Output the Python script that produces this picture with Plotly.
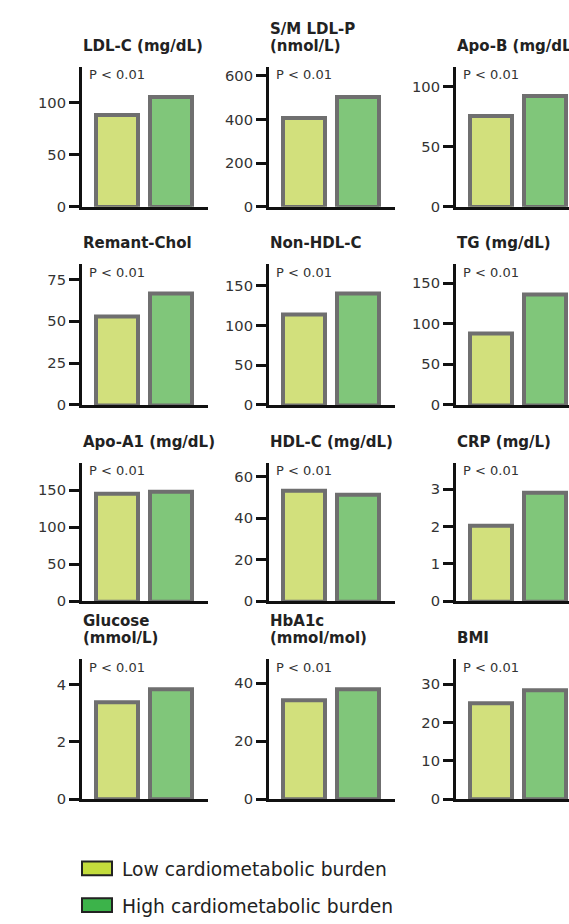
import plotly.graph_objects as go

W, H = 569, 924

titles = ["LDL-C (mg/dL)", "S/M LDL-P<br>(nmol/L)", "Apo-B (mg/dL)",
          "Remant-Chol", "Non-HDL-C", "TG (mg/dL)",
          "Apo-A1 (mg/dL)", "HDL-C (mg/dL)", "CRP (mg/L)",
          "Glucose<br>(mmol/L)", "HbA1c<br>(mmol/mol)", "BMI"]
low_values = [88, 408, 76, 53, 114.5, 88, 145, 53, 2.03, 3.4, 34.3, 24.9]
high_values = [106, 503, 92, 66.5, 140.5, 136.5, 148, 51.3, 2.92, 3.85, 37.8, 28.3]
tick_values = [[0, 50, 100], [0, 200, 400, 600], [0, 50, 100],
               [0, 25, 50, 75], [0, 50, 100, 150], [0, 50, 100, 150],
               [0, 50, 100, 150], [0, 20, 40, 60], [0, 1, 2, 3],
               [0, 2, 4], [0, 20, 40], [0, 10, 20, 30]]
p_labels = ["P < 0.01"] * 12
group_names = ["Low cardiometabolic burden", "High cardiometabolic burden"]

# layout (window pixels)
y_max = [134.7, 641, 116.5, 84, 177, 173, 187, 66.6, 3.71, 4.9, 48.3, 36.5]
col_left = [82, 269, 456]
col_w = 126
px_per_cat = 54.0
x_start = -0.654
row_top = [67.5, 266.7, 466.7, 665]
row_bot = [208.5, 408.5, 606.5, 806]

bar_fill = ["#d2e07c", "#80c67a"]
legend_fill = ["#c3dc3c", "#3cb34a"]
font_family = "DejaVu Sans, Verdana, sans-serif"

def px(x):
    return x / W

def py(y):
    return 1 - y / H

fig = go.Figure()
annotations = []
shapes = []
layout_axes = {}

for i in range(12):
    r, c = divmod(i, 3)
    n = i + 1
    xa = "x" if n == 1 else f"x{n}"
    ya = "y" if n == 1 else f"y{n}"
    fig.add_trace(go.Bar(
        x=[0, 1], y=[low_values[i], high_values[i]],
        marker=dict(color=bar_fill, line=dict(color="#6f6f6f", width=4)),
        width=0.778, xaxis=xa, yaxis=ya, showlegend=False,
        hoverinfo="y",
    ))
    right_px = min(W, col_left[c] + col_w)
    x_end = x_start + (right_px - col_left[c]) / px_per_cat
    layout_axes["xaxis" if n == 1 else f"xaxis{n}"] = dict(
        domain=[px(col_left[c]), px(right_px)], range=[x_start, x_end], anchor=ya,
        showline=True, linewidth=3, linecolor="#111111",
        showticklabels=False, ticks="", showgrid=False, zeroline=False,
        fixedrange=True,
    )
    layout_axes["yaxis" if n == 1 else f"yaxis{n}"] = dict(
        domain=[py(row_bot[r]), py(row_top[r])], range=[0, y_max[i]], anchor=xa,
        showline=True, linewidth=3, linecolor="#111111",
        ticks="outside", ticklen=10, tickwidth=2.5, tickcolor="#111111",
        tickvals=tick_values[i], ticktext=[str(v) for v in tick_values[i]],
        tickfont=dict(family=font_family, size=14.7, color="#333333"),
        showgrid=False, zeroline=False, fixedrange=True,
    )
    # title lines, placed bottom-up with a tight line spacing
    lines = titles[i].split("<br>")
    for j, line in enumerate(reversed(lines)):
        annotations.append(dict(
            text=f"<b>{line}</b>", xref="paper", yref="paper",
            x=px(col_left[c] - 1), y=py(row_top[r] - 10 - 17 * j),
            xanchor="left", yanchor="bottom", align="left", showarrow=False,
            font=dict(family=font_family, size=15, color="#222222"),
        ))
    annotations.append(dict(
        text=p_labels[i], xref="paper", yref="paper",
        x=px(col_left[c] + 5), y=py(row_top[r] + 8),
        xanchor="left", yanchor="middle", showarrow=False,
        font=dict(family=font_family, size=13, color="#333333"),
    ))

# legend
leg_y = [876, 913]
for k in range(2):
    shapes.append(dict(
        type="rect", xref="paper", yref="paper",
        x0=px(82), x1=px(112), y0=py(leg_y[k] - 7), y1=py(leg_y[k] + 7),
        fillcolor=legend_fill[k], line=dict(color="#222222", width=2),
    ))
    annotations.append(dict(
        text=group_names[k], xref="paper", yref="paper",
        x=px(120), y=py(leg_y[k] + 1), xanchor="left", yanchor="middle",
        showarrow=False, font=dict(family=font_family, size=18.7, color="#222222"),
    ))

fig.update_layout(
    width=W, height=H,
    margin=dict(l=0, r=0, t=0, b=0),
    paper_bgcolor="white", plot_bgcolor="white",
    showlegend=False,
    annotations=annotations, shapes=shapes,
    bargap=0,
    **layout_axes,
)

fig.write_html(
    "out.html",
    config={"displayModeBar": False},
    post_script="document.body.style.margin='0';document.body.style.overflow='hidden';",
)
